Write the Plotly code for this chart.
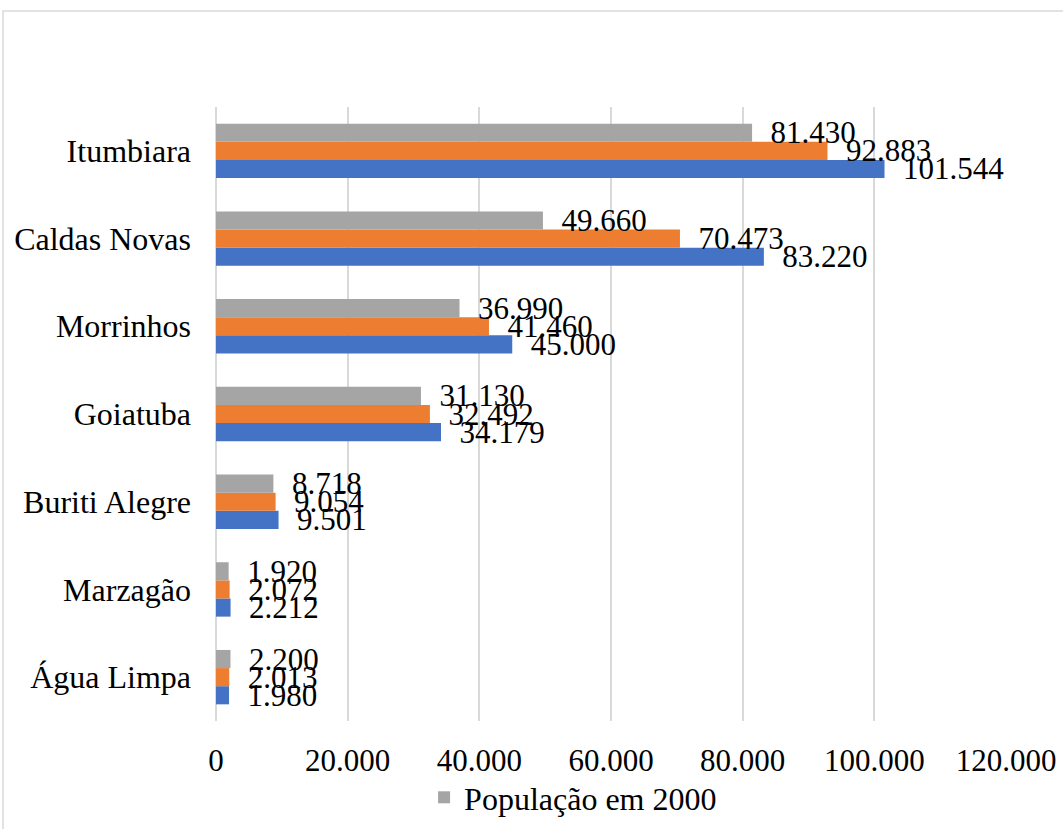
import plotly.graph_objects as go

categories = ["Água Limpa", "Marzagão", "Buriti Alegre", "Goiatuba", "Morrinhos", "Caldas Novas", "Itumbiara"]
pop_2000 = [2200, 1920, 8718, 31130, 36990, 49660, 81430]
pop_2010 = [2013, 2072, 9054, 32492, 41460, 70473, 92883]
pop_2019 = [1980, 2212, 9501, 34179, 45000, 83220, 101544]
x_ticks = [0, 20000, 40000, 60000, 80000, 100000, 120000]

FONT = "Liberation Serif, Times New Roman, serif"

series = [
    ("População estimada 2019", pop_2019, "#4472C4", False),
    ("População em 2010", pop_2010, "#ED7D31", False),
    ("População em 2000", pop_2000, "#A5A5A5", True),
]

fig = go.Figure()
for name, vals, color, show in series:
    fig.add_trace(go.Bar(
        y=categories, x=vals, name=name, orientation="h",
        marker=dict(color=color, line=dict(width=0)),
        texttemplate="\u00a0\u00a0%{x:,.0f}",
        textposition="outside", constraintext="none", cliponaxis=False,
        textfont=dict(family=FONT, size=31, color="#000000"),
        showlegend=show,
    ))

fig.update_layout(
    width=1063, height=829,
    margin=dict(l=216, r=57, t=107, b=108, autoexpand=False),
    paper_bgcolor="white", plot_bgcolor="white",
    barmode="group", bargap=0.38, bargroupgap=0,
    separators=",.",
    font=dict(family=FONT, size=31, color="#000000"),
    showlegend=True,
    legend=dict(orientation="h", x=0.452, xanchor="center",
                yref="container", y=0.038, yanchor="middle",
                font=dict(family=FONT, size=32, color="#000000"), itemwidth=30,
                bgcolor="rgba(0,0,0,0)"),
    xaxis=dict(range=[0, 120000], tickvals=x_ticks, tickformat=",.0f",
               showgrid=True, gridcolor="#D9D9D9", gridwidth=1.5,
               zeroline=True, zerolinecolor="#D9D9D9", zerolinewidth=1.5,
               showline=False, ticks="", ticklabelstandoff=18,
               tickfont=dict(family=FONT, size=31, color="#000000"), fixedrange=True),
    yaxis=dict(categoryorder="array", categoryarray=categories,
               showgrid=False, zeroline=False, showline=False, ticks="",
               ticklabelstandoff=24,
               tickfont=dict(family=FONT, size=32, color="#000000"), fixedrange=True),
)

# chart frame (cropped at right and bottom)
fig.add_shape(type="rect", xref="paper", yref="paper",
              x0=-0.2696, x1=1.2, y0=-0.3, y1=1.1564,
              line=dict(color="#D9D9D9", width=1.5), fillcolor="rgba(0,0,0,0)", layer="below")

fig.write_html("out.html")
